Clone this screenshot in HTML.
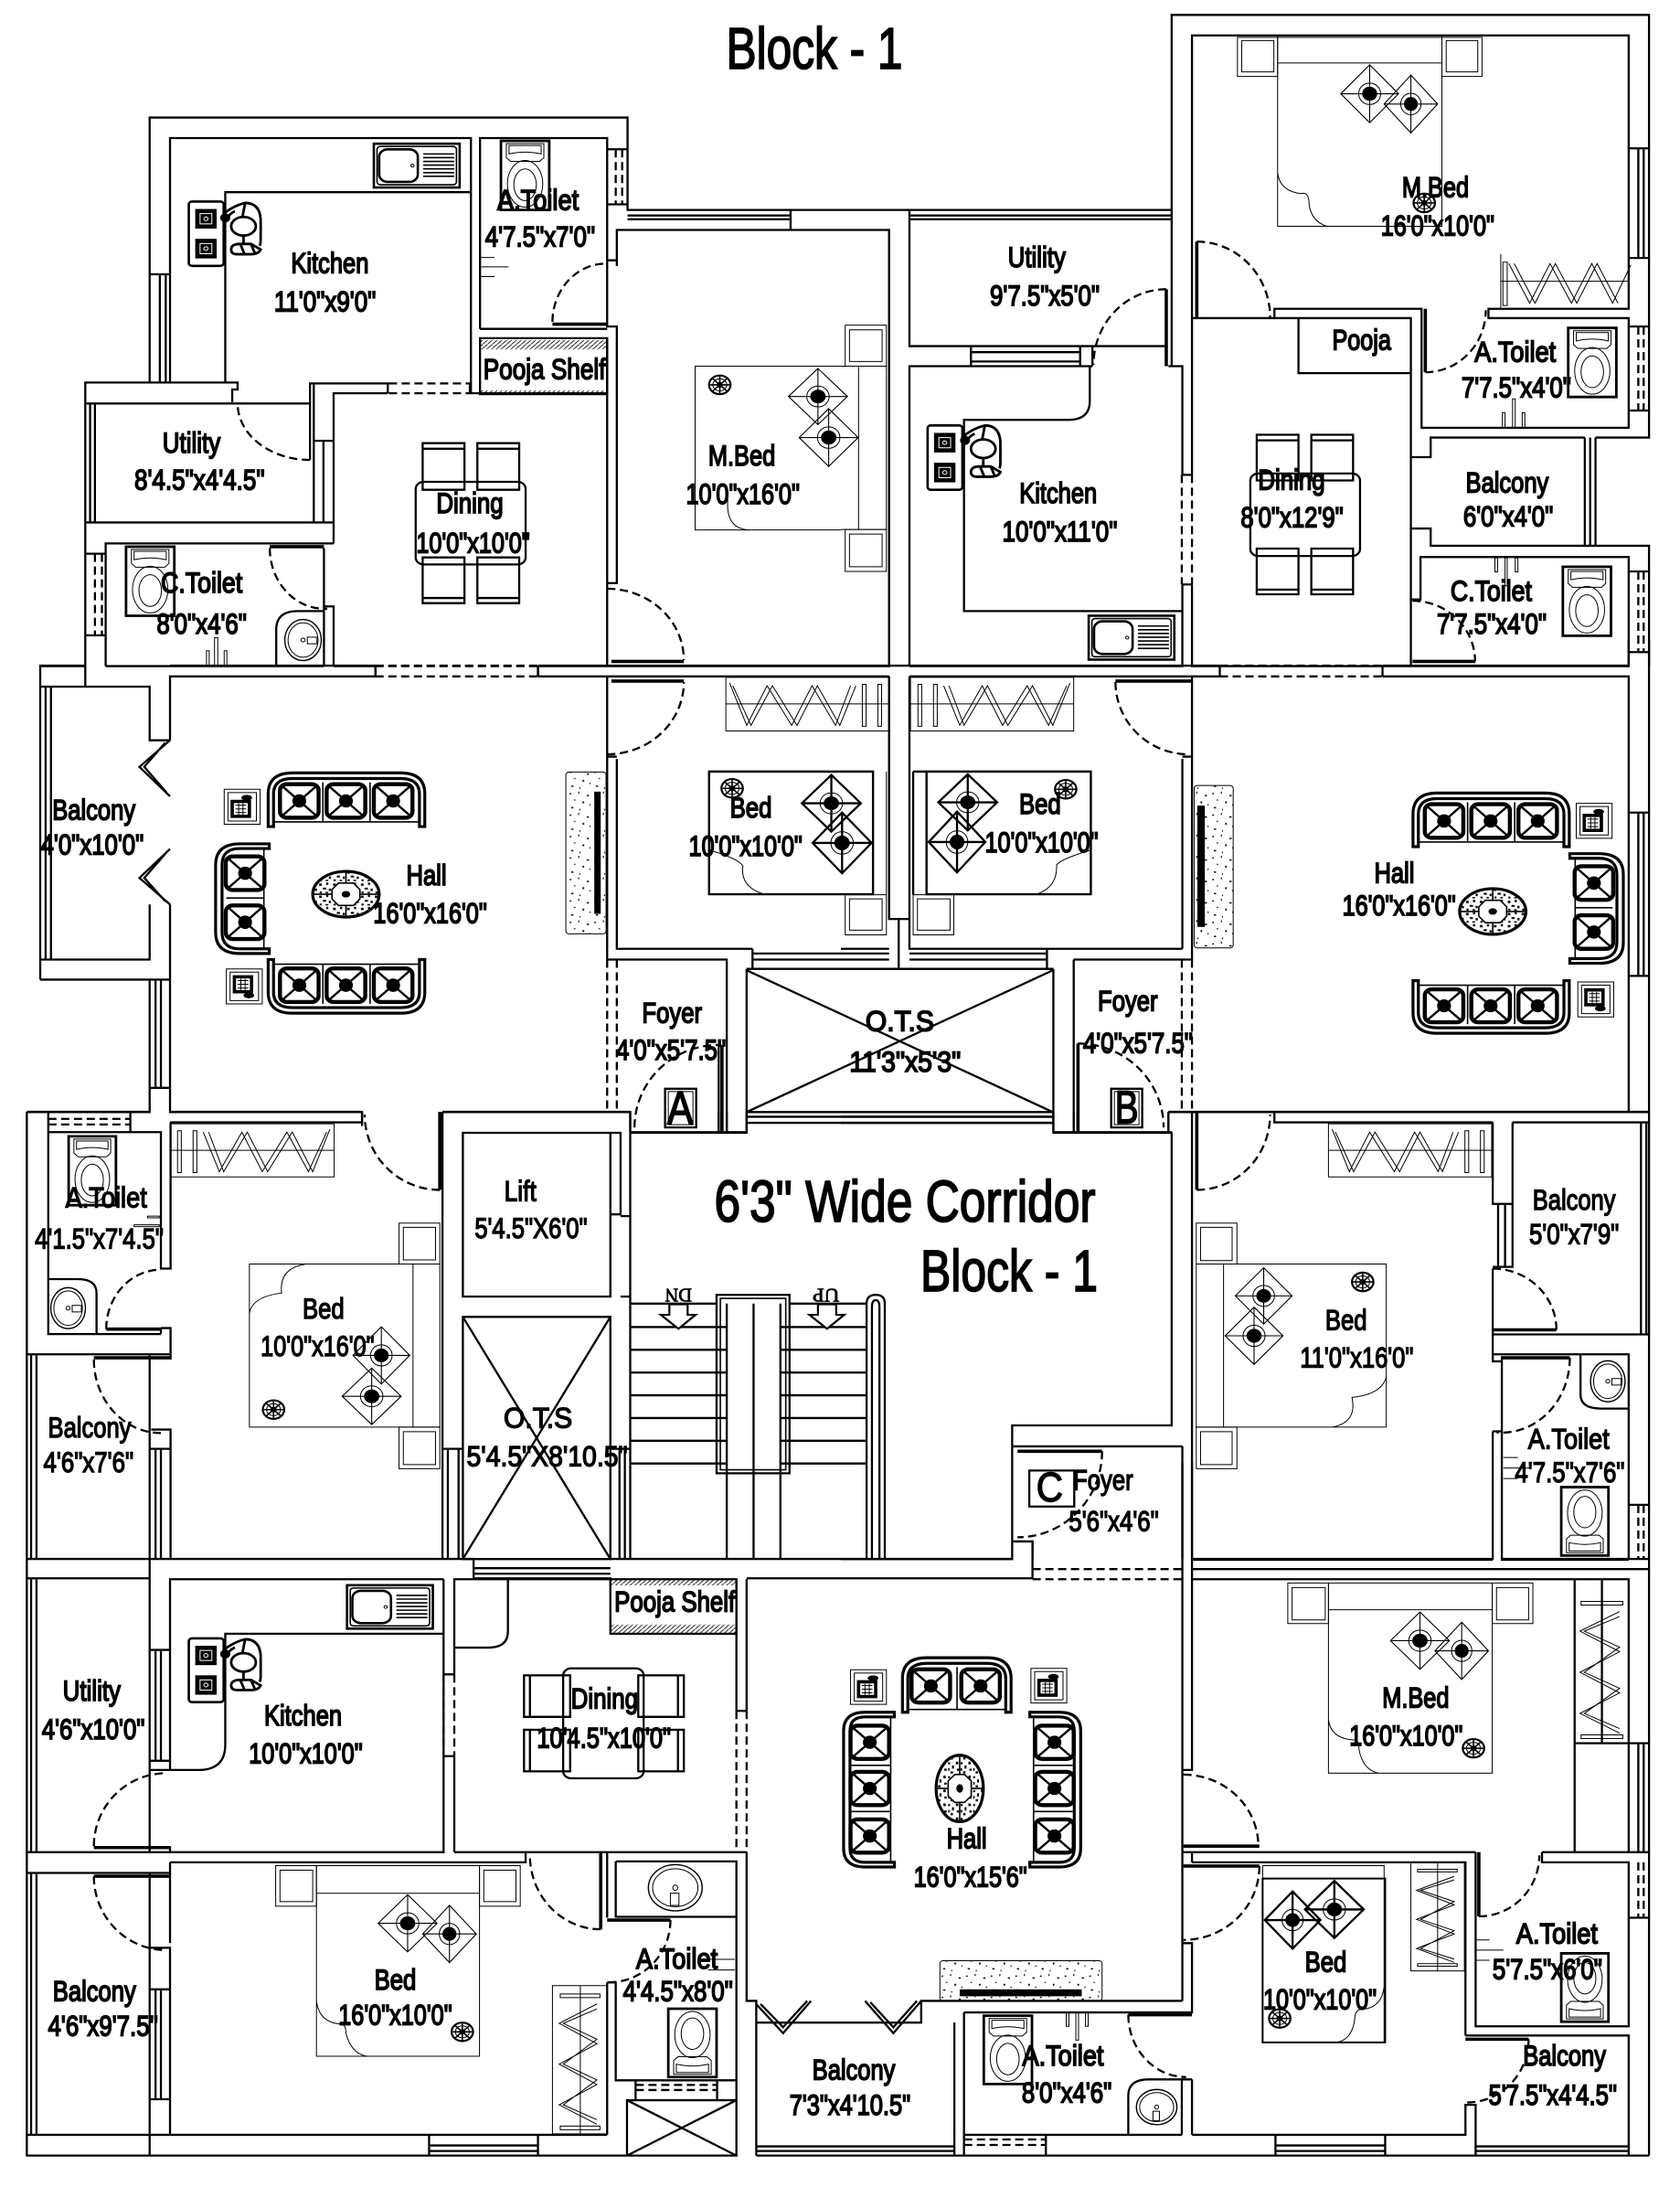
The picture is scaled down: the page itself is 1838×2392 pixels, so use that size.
<!DOCTYPE html>
<html><head><meta charset="utf-8"><title>Block - 1</title>
<style>
html,body{margin:0;padding:0;background:#fff}
svg{display:block}
svg *{vector-effect:non-scaling-stroke}
text{font-family:"Liberation Sans",Arial,sans-serif;fill:#000;stroke:#000;stroke-width:1.8;text-anchor:middle}
.k{stroke-width:3.6}.t{stroke-width:1}.d{stroke-dasharray:9 5}.m{stroke-width:1.6}.n{stroke-width:1.1}
</style></head><body>
<svg xmlns="http://www.w3.org/2000/svg" width="1838" height="2392" viewBox="0 0 1838 2392" fill="none" stroke="#000" stroke-width="2.3">
<defs>
<pattern id="hat" patternUnits="userSpaceOnUse" width="9" height="9"><path d="M-1,10L10,-1" stroke-width="1.6"/></pattern>
<pattern id="spk" patternUnits="userSpaceOnUse" width="46" height="46"><g fill="#000" stroke="none"><rect x="4" y="6" width="3" height="3"/><rect x="20" y="3" width="2" height="4"/><rect x="36" y="10" width="4" height="3"/><rect x="12" y="20" width="3" height="2"/><rect x="28" y="24" width="3" height="4"/><rect x="41" y="30" width="2" height="3"/><rect x="7" y="36" width="4" height="3"/><rect x="22" y="40" width="2" height="3"/></g></pattern>
<pattern id="spc" patternUnits="userSpaceOnUse" width="26" height="26"><g fill="#000" stroke="none"><rect x="2" y="3" width="5" height="5"/><rect x="15" y="1" width="4" height="5"/><rect x="9" y="12" width="6" height="4"/><rect x="20" y="14" width="4" height="5"/><rect x="3" y="20" width="4" height="4"/><rect x="14" y="21" width="5" height="3"/></g></pattern>
<g id="wc"><rect width="90" height="148" stroke-width="2.8"/><g class="t"><path d="M10,6H80V36L72,44H18L10,36ZM15,10H75V28Q60,24 45,24Q30,24 15,28Z"/><ellipse cx="45" cy="92" rx="33" ry="50"/><ellipse cx="45" cy="94" rx="21" ry="34"/></g></g>
<g id="ks"><rect width="160" height="94" stroke-width="2.6"/><rect x="6" y="6" width="148" height="82" rx="6" class="m"/><rect x="10" y="12" width="72" height="70" rx="16" stroke-width="2.6"/><circle cx="72" cy="47" r="3" class="t"/><path class="m" d="M92,22H150M92,30H150M92,38H150M92,46H150M92,54H150M92,62H150M92,70H150"/></g>
<g id="st"><rect width="65" height="138" rx="6" stroke-width="2.6"/><rect x="12" y="16" width="40" height="42" fill="#000" stroke="none"/><rect x="21" y="26" width="22" height="22" stroke="#fff" class="t"/><circle cx="32" cy="37" r="4" stroke="#fff" class="t"/><rect x="12" y="80" width="40" height="42" fill="#000" stroke="none"/><rect x="21" y="90" width="22" height="22" stroke="#fff" class="t"/><circle cx="32" cy="101" r="4" stroke="#fff" class="t"/></g>
<g id="ch" stroke-width="2.8"><ellipse cx="36" cy="50" rx="23" ry="20"/><path d="M0,22Q18,6 39,0Q66,0 68,35V78Q68,88 66,92M39,0L34,30M4,36Q10,22 20,18"/><ellipse cx="2" cy="32" rx="7" ry="7" fill="#000"/><path d="M36,70V88M13,100Q13,88 30,88H50L68,100Q64,110 50,110H24Q13,110 13,100ZM30,88L38,110M50,88L58,110"/></g>
<g id="se"><rect x="-36" y="-36" width="72" height="72" rx="13" stroke-width="4.4"/><path d="M-33,-33L33,33M33,-33L-33,33" stroke-width="2.4"/><ellipse rx="11" ry="12" fill="#000"/></g>
<g id="s3"><path stroke-width="3.2" d="M0,115V45Q0,0 45,0H247Q292,0 292,45V115H282V45Q282,12 247,12H45Q10,12 10,45V115Z"/><path class="m" d="M102,20V105M190,20V105M10,105H282"/><use href="#se" x="58" y="60"/><use href="#se" x="145" y="60"/><use href="#se" x="233" y="60"/></g>
<g id="s2v"><path stroke-width="3.2" d="M100,0H45Q0,0 0,45V190Q0,235 45,235H100V225H45Q12,225 12,190V45Q12,10 45,10H100Z"/><path class="m" d="M20,116H90M90,10V225"/><use href="#se" x="55" y="63"/><use href="#se" x="55" y="168"/></g>
<g id="s3v"><path stroke-width="3.2" d="M95,0H40Q0,0 0,40V295Q0,335 40,335H95V325H40Q12,325 12,295V40Q12,10 40,10H95Z"/><path class="m" d="M15,115H88M15,215H88M88,10V325"/><use href="#se" x="49" y="65"/><use href="#se" x="49" y="165"/><use href="#se" x="49" y="268"/></g>
<g id="s2h"><path stroke-width="3.2" d="M0,118V45Q0,0 45,0H158Q203,0 203,45V118H193V45Q193,12 158,12H45Q10,12 10,45V118Z"/><path class="m" d="M102,20V112M10,112H193"/><use href="#se" x="53" y="61"/><use href="#se" x="146" y="61"/></g>
<g id="sd"><rect width="67" height="75" class="t"/><rect x="7" y="7" width="53" height="61" class="t"/><rect x="15" y="26" width="32" height="32" stroke-width="3.6"/><path d="M21,34H41M21,42H41M21,50H41M27,30V54M35,30V54" class="t"/><ellipse cx="42" cy="18" rx="10" ry="6" fill="#000" stroke="none"/></g>
<g id="cf"><ellipse rx="62" ry="49" fill="url(#spc)" stroke-width="3.2"/><path class="m" fill="#fff" d="M-14,-24H14L26,-10V10L14,24H-14L-26,10V-10Z"/><ellipse rx="8" ry="7" fill="#000" stroke="none"/><path d="M-62,0H-26M26,0H62M0,-49V-24M0,24V49" class="m"/></g>
<g id="dm"><path d="M0,-62L50,0L0,62L-50,0ZM-50,0H50M0,-62V62"/><ellipse rx="19" ry="23" class="t"/><ellipse rx="13" ry="15" fill="#000" stroke="none"/></g>
<g id="fn"><circle r="20" stroke-width="2.2"/><circle r="13" class="t"/><circle r="4" fill="#000"/><path class="m" d="M-18,0H18M0,-18V18M-13,-13L13,13M13,-13L-13,13"/></g>
<g id="wr" class="t"><rect x="14" y="15" width="7" height="90"/><rect x="43" y="15" width="7" height="90"/><path d="M0,57H305M62,18L92,103L134,18L172,103L218,18L258,103L292,18M72,18L100,103L144,18L182,103L228,18L266,103L298,12"/></g>
<g id="wv" class="t"><rect x="10" y="0" width="78" height="8"/><rect x="10" y="292" width="78" height="8"/><path d="M82,22L8,65L82,110L8,155L82,200L8,245L82,288M82,33L16,65L82,100L16,155L82,190L16,245L82,278"/></g>
<g id="bs"><ellipse rx="34" ry="44" stroke-width="1.4"/><ellipse rx="28" ry="37" class="t"/><circle r="4" class="t"/><path class="t" d="M8,-6H26V8H8Z"/></g>
</defs>
<rect width="1838" height="2392" fill="#fff" stroke="none"/>

<text x="891" y="75" font-size="64" textLength="193" lengthAdjust="spacingAndGlyphs">Block - 1</text>
<text x="990" y="1336" font-size="64" textLength="417" lengthAdjust="spacingAndGlyphs">6'3" Wide Corridor</text>
<text x="1104" y="1412" font-size="64" textLength="194" lengthAdjust="spacingAndGlyphs">Block - 1</text>

<!-- Z1 -->
<g transform="scale(.5868,.5102)">
<path d="M279,820V252H1170V450H1568M1170,462H1474M1170,470H1474M1474,450V493M1150,570V493H1568M317,820V296H878V845M420,820V412H878M279,588H317M298,588V820M309,588V820M159,1428V820H443V835H433V862M159,865H578M578,986V822H723V843M585,822V945H622M622,1428V1300H604M622,1165V1120M622,1120V843H723M876,843H1132M876,822V843M168,865V1120M177,865V1120M585,945V1120M603,945V1120M159,1120H622M197,1428V1165H622M604,1175V1428M159,1187H197M159,1362H197M75,1428H159M197,1428H604M622,1428H700M1003,1428H1568M700,1428V1450M1003,1428V1450M895,705V296H1132V700H1150V1250H1132V1262M895,705H1132M1132,320H1170M1132,438H1170M1132,558H1150V570M1132,725V1428M515,1428V1350Q515,1310 555,1310H604"/>
<path class="d" d="M725,822H876M725,843H876M177,1187V1362M190,1187V1362M1148,320V438M1160,320V438M503,1175A102,130 0 0 0 610,1305M1030,690A100,125 0 0 1 1132,565M1132,1262A143,153 0 0 1 1275,1415M578,986A135,121 0 0 1 443,865M700,1428H1003"/>
<path class="k" d="M503,1172H604M1030,695H1132M1140,1418H1275"/>
<path class="t" d="M897,552H922M897,572H948M897,593H922"/>
<rect x="385" y="1395" width="5" height="33" class="t"/><rect x="400" y="1367" width="6" height="61" class="t"/><rect x="418" y="1395" width="5" height="33" class="t"/>
<use href="#bs" transform="translate(565,1372)"/>
<rect x="895" y="725" width="237" height="120"/>
<rect x="895" y="729" width="237" height="20" fill="url(#hat)" stroke="none"/><rect x="895" y="837" width="237" height="8" fill="url(#hat)" stroke="none"/>
<use href="#ks" x="697" y="308"/><use href="#st" x="352" y="432"/><use href="#ch" x="418" y="435"/>
<use href="#wc" x="934" y="302"/><use href="#wc" x="235" y="1172"/>
<rect x="775" y="1033" width="205" height="177" rx="15"/>
<rect x="788" y="950" width="78" height="100"/><rect x="890" y="950" width="78" height="100"/><rect x="788" y="1195" width="78" height="98"/><rect x="890" y="1195" width="78" height="98"/>
<path d="M788,962H866M890,962H968M788,1282H866M890,1282H968"/>
<path class="t" d="M1568,785H1296V1136H1568M1357,1070Q1352,1136 1400,1136"/>
<use href="#dm" transform="translate(1525,850) scale(1.1,.97)" class="n"/><use href="#dm" transform="translate(1545,938) scale(1.1,1)" class="n"/>
<use href="#fn" x="1342" y="825"/>
<g font-size="62">
<text x="1003" y="450" textLength="152" lengthAdjust="spacingAndGlyphs">A.Toilet</text>
<text x="1007" y="528" textLength="205" lengthAdjust="spacingAndGlyphs">4'7.5"x7'0"</text>
<text x="615" y="585" textLength="145" lengthAdjust="spacingAndGlyphs">Kitchen</text>
<text x="606" y="667" textLength="190" lengthAdjust="spacingAndGlyphs">11'0"x9'0"</text>
<text x="1015" y="812" textLength="228" lengthAdjust="spacingAndGlyphs">Pooja Shelf</text>
<text x="357" y="970" textLength="108" lengthAdjust="spacingAndGlyphs">Utility</text>
<text x="372" y="1050" textLength="243" lengthAdjust="spacingAndGlyphs">8'4.5"x4'4.5"</text>
<text x="876" y="1100" textLength="125" lengthAdjust="spacingAndGlyphs">Dining</text>
<text x="882" y="1185" textLength="212" lengthAdjust="spacingAndGlyphs">10'0"x10'0"</text>
<text x="1383" y="998" textLength="125" lengthAdjust="spacingAndGlyphs">M.Bed</text>
<text x="1385" y="1080" textLength="212" lengthAdjust="spacingAndGlyphs">10'0"x16'0"</text>
<text x="376" y="1270" textLength="152" lengthAdjust="spacingAndGlyphs">C.Toilet</text>
<text x="376" y="1358" textLength="168" lengthAdjust="spacingAndGlyphs">8'0"x4'6"</text>
</g>
</g>

<!-- Z2 -->
<g transform="translate(920,0) scale(.5855,.5102)">
<path d="M618,785V32H1510V938H1410M0,450H618M128,462H618M128,470H618M128,450V742H610M128,742H470V785M243,742V785M447,742V785M243,755H447M243,775H447M128,1428V785H470M612,785H638V1018M638,1253V1428H128M0,493H90V1428H0M465,785V860Q465,900 425,900H230V1310H638M656,1018V76H1472V662H1210V682H1472V917H1085V662H810V682M656,682H1065V1428M855,682V800H1065M656,1253V1428H1472V1194H1083V1285H1065M1065,980H1102V938H1390M1390,938V1170M1400,938V1170M1410,938V1170M1065,1133H1102V1170H1510V1428M1472,318H1510M1472,553H1510M1490,318V553M1500,318V553M1472,700H1510M1472,880H1510M1472,1225H1510M1472,1398H1510M637,1018H656M637,1253H656"/>
<path class="d" d="M1490,700V880M1500,700V880M1490,1225V1398M1500,1225V1398M637,1018V1253M656,1018V1253M608,620A136,162 0 0 0 472,782M665,518A137,162 0 0 1 802,680M1092,798A113,133 0 0 0 1205,665M1068,1288A117,130 0 0 1 1185,1418"/>
<path class="k" d="M608,620V785M665,518V680M1092,662V798M1068,1418H1185"/>
<use href="#ks" x="463" y="1320"/><use href="#st" x="162" y="912"/><use href="#ch" x="230" y="912"/>
<use href="#wc" x="1359" y="703"/><use href="#wc" x="1349" y="1215"/>
<rect class="t" x="1236" y="885" width="5" height="32"/><rect class="t" x="1255" y="855" width="5" height="62"/><rect class="t" x="1273" y="885" width="5" height="32"/>
<rect class="t" x="1222" y="1196" width="5" height="30"/><rect class="t" x="1241" y="1196" width="4" height="60"/><rect class="t" x="1260" y="1196" width="5" height="30"/>
<path class="t" d="M816,135H1123V485H816ZM816,76V135M1123,76V135M816,80H1123M816,370Q820,410 860,415Q875,410 875,440Q880,475 908,485M1233,545V660"/>
<rect class="t" x="741" y="80" width="75" height="84"/><rect class="t" x="749" y="87" width="60" height="67"/><rect class="t" x="1123" y="80" width="75" height="84"/><rect class="t" x="1131" y="87" width="59" height="67"/>
<use href="#dm" transform="translate(988,201) scale(1.08,1)" class="n"/><use href="#dm" transform="translate(1065,223)" class="n"/><use href="#fn" x="1090" y="435"/>
<path class="t" d="M1233,603H1472M1237,562H1245V655H1237ZM1248,565L1287,650L1325,565L1365,650L1403,565L1442,650L1476,568M1258,565L1297,650L1335,565L1375,650L1413,565L1452,650"/>
<path class="t" d="M0,785H85V1135H0M33,785V1135"/>
<rect class="t" x="8" y="697" width="77" height="88"/><rect class="t" x="16" y="707" width="61" height="68"/><rect class="t" x="8" y="1135" width="77" height="90"/><rect class="t" x="16" y="1145" width="61" height="70"/>
<rect x="765" y="1015" width="205" height="177" rx="15"/>
<rect x="777" y="932" width="78" height="98"/><rect x="879" y="932" width="78" height="98"/><rect x="777" y="1176" width="78" height="98"/><rect x="879" y="1176" width="78" height="98"/>
<path d="M777,944H855M879,944H957M777,1264H855M879,1264H957"/>
<g font-size="62">
<text x="1111" y="422" textLength="125" lengthAdjust="spacingAndGlyphs">M.Bed</text>
<text x="1115" y="505" textLength="212" lengthAdjust="spacingAndGlyphs">16'0"x10'0"</text>
<text x="366" y="572" textLength="108" lengthAdjust="spacingAndGlyphs">Utility</text>
<text x="381" y="655" textLength="205" lengthAdjust="spacingAndGlyphs">9'7.5"x5'0"</text>
<text x="973" y="750" textLength="110" lengthAdjust="spacingAndGlyphs">Pooja</text>
<text x="1260" y="775" textLength="152" lengthAdjust="spacingAndGlyphs">A.Toilet</text>
<text x="1262" y="852" textLength="205" lengthAdjust="spacingAndGlyphs">7'7.5"x4'0"</text>
<text x="1245" y="1055" textLength="155" lengthAdjust="spacingAndGlyphs">Balcony</text>
<text x="1247" y="1128" textLength="168" lengthAdjust="spacingAndGlyphs">6'0"x4'0"</text>
<text x="842" y="1050" textLength="125" lengthAdjust="spacingAndGlyphs">Dining</text>
<text x="843" y="1130" textLength="192" lengthAdjust="spacingAndGlyphs">8'0"x12'9"</text>
<text x="406" y="1078" textLength="145" lengthAdjust="spacingAndGlyphs">Kitchen</text>
<text x="409" y="1160" textLength="215" lengthAdjust="spacingAndGlyphs">10'0"x11'0"</text>
<text x="1215" y="1288" textLength="152" lengthAdjust="spacingAndGlyphs">C.Toilet</text>
<text x="1216" y="1358" textLength="205" lengthAdjust="spacingAndGlyphs">7'7.5"x4'0"</text>
</g>
</g>

<!-- Z3 -->
<g transform="translate(0,700) scale(.5868,.5102)">
<path d="M159,55V100M75,728V55H159M75,100H279V215H317M279,567V685H75M85,100V685M95,100V685M75,728H317M279,728V1012H50M290,728V960M300,728V960M279,960H317M317,215V78H700M1003,78H1568M1003,55H1568M317,55H700M700,55V78M1003,55V78M317,215L260,272L317,335M308,220L269,272L310,326M317,448L260,510L317,567M310,456L269,510L308,560M317,567V1012H675V1042M825,1012H1175V1055M1132,78V685M1150,255V662H1403M1132,250H1150M1132,685H1355V1055M1403,662V705M1403,672H1568M1403,685H1568M1340,868V1055M1177,1055H1392V705M1392,705H1963M1392,708V1012H1963M1392,708L1963,1012M1392,1012L1963,708M1392,1022H1963M1392,1035H1963M1132,1012H1150"/>
<path class="d" d="M700,55H1003M700,78H1003M1132,685V1012M1150,685V1012M1132,245A143,155 0 0 0 1275,90M1183,1045A157,177 0 0 1 1340,868"/>
<path class="k" d="M1140,88H1275M1346,868V1055"/>
<rect x="1240" y="962" width="58" height="83"/><rect class="t" x="1246" y="968" width="46" height="71"/>
<text x="1268" y="1038" font-size="100" textLength="48" lengthAdjust="spacingAndGlyphs">A</text>
<path stroke-width="2.4" d="M1568,282H1322V545H1568"/><path class="t" d="M1322,450Q1380,470 1385,485Q1380,530 1425,545"/>
<use href="#fn" x="1365" y="318"/>
<use href="#dm" transform="translate(1550,350) scale(1.1,.98)"/><use href="#dm" transform="translate(1570,435) scale(1.1,1.05)"/>
<use href="#s3" x="500" y="285"/><use href="#s2v" x="402" y="437"/><use href="#s3" transform="translate(500,800) scale(1,-1)"/>
<use href="#sd" x="418" y="320"/><use href="#sd" transform="translate(422,780) scale(1,-1)"/><use href="#cf" x="645" y="545"/>
<rect x="1055" y="283" width="75" height="347" rx="6" class="t" fill="url(#spk)"/><rect x="1108" y="325" width="12" height="262" fill="#000" stroke="none"/>
<g font-size="62">
<text x="175" y="385" textLength="155" lengthAdjust="spacingAndGlyphs">Balcony</text>
<text x="172" y="460" textLength="192" lengthAdjust="spacingAndGlyphs">4'0"x10'0"</text>
<text x="795" y="525" textLength="75" lengthAdjust="spacingAndGlyphs">Hall</text>
<text x="802" y="607" textLength="212" lengthAdjust="spacingAndGlyphs">16'0"x16'0"</text>
<text x="1400" y="380" textLength="78" lengthAdjust="spacingAndGlyphs">Bed</text>
<text x="1390" y="463" textLength="212" lengthAdjust="spacingAndGlyphs">10'0"x10'0"</text>
<text x="1253" y="820" textLength="112" lengthAdjust="spacingAndGlyphs">Foyer</text>
<text x="1251" y="900" textLength="205" lengthAdjust="spacingAndGlyphs">4'0"x5'7.5"</text>
</g>
</g>

<!-- Z4 -->
<g transform="translate(920,700) scale(.5855,.5102)">
<path d="M0,55H708M1012,55H1472M0,78H90M128,78H656M656,78H708M1012,78H1472V1012M708,55V78M1012,55V78M1510,0V1012M1472,0V55M90,78V598H128M128,78V662H638M638,255V662M638,250H656M656,78V685M0,662H90M0,672H90M0,685H90M128,672H385M128,685H385M385,662V705M108,598V705M128,598V662M0,705H397M397,705V1055M435,685H656M435,685V1055M1472,370H1510M1472,720H1510M1490,370V720M1500,370V720M612,1012H1510M612,1012V1055M397,1055H618M0,1035H397M0,1022H397"/>
<path class="d" d="M637,685V1012M656,685V1012M708,55H1012M708,78H1012M513,90A137,155 0 0 0 650,245M443,865A160,180 0 0 1 603,1045"/>
<path class="k" d="M513,88H656M443,865V1055"/>
<rect x="505" y="962" width="58" height="83"/><rect class="t" x="511" y="968" width="46" height="71"/>
<text x="534" y="1036" font-size="100" textLength="44" lengthAdjust="spacingAndGlyphs">B</text>
<rect class="t" x="-215" y="80" width="305" height="115"/><use href="#wr" transform="translate(90,80) scale(-1,1)"/>
<rect class="t" x="130" y="80" width="305" height="115"/><use href="#wr" transform="translate(130,80)"/>
<path class="t" d="M85,282V545"/>
<path stroke-width="2.4" d="M0,282H60V545H0M160,282H467V545H160ZM135,282H160M135,282V546"/>
<path class="t" d="M467,450Q410,470 403,482Q405,530 365,545"/>
<rect class="t" x="8" y="546" width="77" height="86"/><rect class="t" x="16" y="555" width="61" height="67"/><rect class="t" x="135" y="546" width="76" height="86"/><rect class="t" x="143" y="555" width="61" height="67"/>
<use href="#dm" transform="translate(237,348) scale(1.1,.97)"/><use href="#dm" transform="translate(217,433) scale(1.06,1.05)"/><use href="#fn" x="420" y="320"/>
<rect class="t" x="660" y="312" width="73" height="348" rx="6" fill="url(#spk)"/><rect x="666" y="355" width="14" height="260" fill="#000" stroke="none"/>
<use href="#s3" x="1069" y="328"/><use href="#s2v" transform="translate(1462,458) scale(-1,1)"/><use href="#s3" transform="translate(1069,843) scale(1,-.98)"/>
<use href="#sd" x="1374" y="350"/><use href="#sd" transform="translate(1377,808) scale(1,-1)"/><use href="#cf" x="1218" y="582"/>
<g font-size="62">
<text x="372" y="372" textLength="78" lengthAdjust="spacingAndGlyphs">Bed</text>
<text x="375" y="455" textLength="212" lengthAdjust="spacingAndGlyphs">10'0"x10'0"</text>
<text x="536" y="795" textLength="112" lengthAdjust="spacingAndGlyphs">Foyer</text>
<text x="555" y="885" textLength="205" lengthAdjust="spacingAndGlyphs">4'0"x5'7.5"</text>
<text x="110" y="838" textLength="128" lengthAdjust="spacingAndGlyphs">O.T.S</text>
<text x="120" y="925" textLength="208" lengthAdjust="spacingAndGlyphs">11'3"x5'3"</text>
<text x="1034" y="520" textLength="75" lengthAdjust="spacingAndGlyphs">Hall</text>
<text x="1043" y="590" textLength="212" lengthAdjust="spacingAndGlyphs">16'0"x16'0"</text>
</g>
</g>

<!-- Z7 -->
<g transform="translate(0,1200) scale(.5868,.3827)">
<path d="M50,42V1320M50,42H279M90,42V100M243,42V100M90,100H300V490H318V72M90,100V677H300M300,660V677M300,660H318V750M50,735H318M279,735V1320M58,735V1320M68,735V1320M318,965V1320M282,950H318V965M279,1005H318M290,1005V1320M300,1005V1320M317,72H675V42M317,42H675M825,42V1320M825,42H1175V102M1175,102V1320M90,520H145Q180,520 180,560V677M863,102H1138V570H863ZM1138,102H1157V335H1138M1157,340H1175V570H1157M863,628H1138V1320H863ZM863,628L1138,1320M1138,628L863,1320M825,1005H863M835,1005V1320M855,1005V1320M1138,1005H1175M1155,1005V1320M1165,1005V1320M1177,102H1392V42M1340,42V102M1355,42V102M1175,590H1336M1472,590H1616M1175,657H1355M1175,722H1355M1175,787H1355M1175,852H1355M1175,917H1355M1175,982H1355M1175,1047H1355M1455,657H1616M1455,722H1616M1455,787H1616M1455,852H1616M1455,917H1616M1455,982H1616M1455,1047H1616M1355,590V1320M1405,590V1320M1455,590V1320"/>
<rect x="1336" y="565" width="136" height="510"/><rect x="1343" y="575" width="122" height="490" class="m"/>
<path stroke-width="2.2" fill="#fff" d="M1248,592H1282V622H1297L1265,662L1232,622H1248ZM1525,592H1559V622H1574L1542,662L1509,622H1525Z"/>
<path class="d" d="M90,62H243M90,78H243M198,663A102,170 0 0 1 300,493M175,750A125,210 0 0 0 300,960M820,265A140,215 0 0 1 680,50"/>
<path class="k" d="M198,663H300M175,745H318M820,42V265"/>
<path class="t" d="M275,340H297V345H275ZM250,365H297V370H250Z"/>
<use href="#bs" transform="translate(127,603) scale(.95,1.33)"/>
<use href="#wc" transform="translate(128,112) scale(.98,1.33)"/>
<rect class="t" x="317" y="76" width="306" height="152"/><use href="#wr" transform="translate(317,76) scale(1,1.33)"/>
<path class="t" d="M465,477H820V943H465ZM770,477V943M465,618Q470,570 525,560Q520,490 568,478"/>
<rect class="t" x="744" y="360" width="76" height="117"/><rect class="t" x="752" y="372" width="60" height="93"/><rect class="t" x="744" y="943" width="76" height="119"/><rect class="t" x="752" y="956" width="60" height="94"/>
<use href="#dm" transform="translate(711,738) scale(1.06,1.32)" class="n"/><use href="#dm" transform="translate(693,855) scale(1.1,1.3)" class="n"/>
<use href="#fn" transform="translate(510,893) scale(1,1.33)"/>
<g font-size="83">
<text x="198" y="315" textLength="152" lengthAdjust="spacingAndGlyphs">A.Toilet</text>
<text x="185" y="432" textLength="240" lengthAdjust="spacingAndGlyphs">4'1.5"x7'4.5"</text>
<text x="970" y="296" textLength="60" lengthAdjust="spacingAndGlyphs">Lift</text>
<text x="990" y="402" textLength="210" lengthAdjust="spacingAndGlyphs">5'4.5"X6'0"</text>
<text x="603" y="632" textLength="78" lengthAdjust="spacingAndGlyphs">Bed</text>
<text x="592" y="740" textLength="212" lengthAdjust="spacingAndGlyphs">10'0"x16'0"</text>
<text x="167" y="972" textLength="155" lengthAdjust="spacingAndGlyphs">Balcony</text>
<text x="165" y="1072" textLength="168" lengthAdjust="spacingAndGlyphs">4'6"x7'6"</text>
<text x="1003" y="945" textLength="128" lengthAdjust="spacingAndGlyphs">O.T.S</text>
<text x="1020" y="1055" textLength="300" lengthAdjust="spacingAndGlyphs">5'4.5"X8'10.5"</text>
</g>
<text transform="translate(1265,547) rotate(180)" font-size="55" textLength="50" lengthAdjust="spacingAndGlyphs" style="font-family:'Liberation Serif',serif;stroke-width:1">DN</text>
<text transform="translate(1540,547) rotate(180)" font-size="55" textLength="50" lengthAdjust="spacingAndGlyphs" style="font-family:'Liberation Serif',serif;stroke-width:1">UP</text>
</g>

<!-- Z8 -->
<g transform="translate(920,1200) scale(.5855,.3827)">
<path d="M397,42V102H618V938H320V1320H0M320,998H638M435,42V102M612,42V100M612,42H1510M638,998V1320M656,42V1320M810,42V72H1218M1218,72V305H1255M1255,72V485H1218M1228,305V485M1241,305V485M1255,72H1510M1495,72V678M1505,72V678M1510,42V1320M1218,490V678M1218,678H1510M1218,678V755H1235M1218,735H1472V1320M1235,740V1322H1472M1218,955V1322M1218,955H1235M1218,1322H656M1382,735V850Q1382,890 1420,890H1472M1472,1165H1510M48,1320V590Q48,565 65,565Q82,565 82,590V1320M58,1320V600Q58,580 65,580Q72,580 72,600V1320M320,1270H358V1320"/>
<path class="d" d="M1490,1165V1320M1500,1165V1320M488,1012A158,245 0 0 1 330,1258M665,265A137,215 0 0 0 802,50M1218,490A119,175 0 0 1 1337,665M1362,745A127,213 0 0 1 1225,958"/>
<path class="k" d="M330,1012H488M665,42V265M1218,665H1337M1235,745H1362"/>
<rect x="352" y="1067" width="84" height="103"/>
<text x="390" y="1155" font-size="118" textLength="50" lengthAdjust="spacingAndGlyphs">C</text>
<use href="#bs" transform="translate(1433,812) scale(.95,1.33)"/>
<use href="#wc" transform="translate(1346,1310) scale(.98,-1.32)"/>
<path class="t" d="M1238,1030H1265M1238,1060H1290M1238,1090H1265"/>
<rect class="t" x="911" y="76" width="305" height="152"/><use href="#wr" transform="translate(1216,76) scale(-1,1.33)"/>
<path class="t" d="M664,477H1019V943H664ZM715,477V943M1019,800Q1010,850 955,858Q965,930 918,943"/>
<rect class="t" x="664" y="360" width="76" height="117"/><rect class="t" x="672" y="372" width="59" height="95"/><rect class="t" x="664" y="943" width="76" height="119"/><rect class="t" x="672" y="956" width="59" height="94"/>
<use href="#dm" transform="translate(790,568) scale(1.06,1.3)" class="n"/><use href="#dm" transform="translate(772,682) scale(1.08,1.32)" class="n"/>
<use href="#fn" transform="translate(975,528) scale(1,1.33)"/>
<g font-size="83">
<text x="1370" y="322" textLength="155" lengthAdjust="spacingAndGlyphs">Balcony</text>
<text x="1370" y="420" textLength="168" lengthAdjust="spacingAndGlyphs">5'0"x7'9"</text>
<text x="944" y="665" textLength="78" lengthAdjust="spacingAndGlyphs">Bed</text>
<text x="964" y="772" textLength="212" lengthAdjust="spacingAndGlyphs">11'0"x16'0"</text>
<text x="1360" y="1005" textLength="152" lengthAdjust="spacingAndGlyphs">A.Toilet</text>
<text x="1362" y="1100" textLength="205" lengthAdjust="spacingAndGlyphs">4'7.5"x7'6"</text>
<text x="490" y="1122" textLength="112" lengthAdjust="spacingAndGlyphs">Foyer</text>
<text x="510" y="1240" textLength="168" lengthAdjust="spacingAndGlyphs">5'6"x4'6"</text>
</g>
</g>

<!-- Z5 -->
<g transform="translate(0,1600) scale(.5868,.5051)">
<path d="M50,208H883V250M883,228H1138M883,240H1138M1138,208H1568M883,250H1138V252M1392,250H1568M50,250H279M50,208V1500H1373M58,250V843M68,250V843M58,888V1455M68,888V1455M50,1455H1132M279,208V843M50,843H827V458M827,252H317V405H279M827,252V458M827,635V843M317,405V665M279,645H317M290,405V645M300,405V645M279,665H317M317,665H370Q420,665 420,610V370H827M317,830V843M50,888H317M317,865H980V843M317,865V1040M317,1065V1455M279,1050H317V1065M279,1140H317M290,1140V1378M300,1140V1378M279,1378H317M279,888V1500M847,843V635M847,458V252H1138M947,252V365Q947,400 910,400H847M827,458H847M827,635H847M847,843H1392M1132,843V985M1132,1125H1148M1132,1125V1455M1148,863H1373V1337H1148V1125M1148,863V985M1148,983H1373M1373,252V537M1392,252V537M1373,537H1392M1392,843V1165H1410V1500M1410,1172L1460,1235L1512,1165M1418,1172L1460,1222L1505,1165M1410,1212H1568M1410,1480H1568M1410,1490H1568M1410,1500H1568M1185,1337V1380M1337,1337V1380M1169,1380H1373V1500H1169ZM1169,1380L1373,1500M1373,1380L1169,1500M800,1455V1500M1003,1455V1500M800,1478H1003M800,1490H1003M1373,1337V1380"/>
<path class="d" d="M827,458V635M847,458V635M1373,537V843M1392,537V843M1185,1347H1337M1185,1358H1337M175,830A135,158 0 0 1 310,672M175,895A135,160 0 0 0 310,1055M1120,1010A132,160 0 0 1 988,850M1250,990A115,135 0 0 1 1135,1125"/>
<path class="k" d="M175,833H317M175,895H317M1120,843V1010M1132,990H1250"/>
<rect x="1138" y="252" width="235" height="118"/>
<rect x="1138" y="252" width="235" height="13" fill="url(#hat)" stroke="none"/><rect x="1138" y="350" width="235" height="20" fill="url(#hat)" stroke="none"/>
<use href="#ks" x="647" y="265"/><use href="#st" x="352" y="380"/><use href="#ch" x="418" y="382"/>
<rect x="1050" y="445" width="150" height="238" rx="15"/>
<rect x="977" y="460" width="86" height="90"/><rect x="1190" y="460" width="85" height="90"/><rect x="977" y="578" width="86" height="90"/><rect x="1190" y="578" width="85" height="90"/>
<path d="M988,460V550M1264,460V550M988,578V668M1264,578V668"/>
<use href="#bs" transform="translate(1259,920) rotate(90) scale(1.47,1.14)"/>
<use href="#wc" transform="translate(1246,1330) scale(1,-1)"/>
<path class="t" d="M1320,1075H1370M1320,1098H1370"/>
<rect class="t" x="1030" y="1132" width="102" height="321"/><path class="t" d="M1082,1132V1453"/><use href="#wv" transform="translate(1035,1150) scale(.95,.98)"/>
<path class="t" d="M590,872H894M590,932H894V1285H590ZM590,872V932M894,872V932M590,1165Q595,1212 635,1215Q645,1215 645,1235Q655,1280 685,1285"/>
<rect class="t" x="514" y="872" width="76" height="88"/><rect class="t" x="522" y="882" width="61" height="68"/><rect class="t" x="894" y="872" width="76" height="88"/><rect class="t" x="902" y="882" width="60" height="68"/>
<use href="#dm" transform="translate(760,997) scale(1.1,1)" class="n"/><use href="#dm" transform="translate(838,1020)" class="n"/><use href="#fn" x="862" y="1232"/>
<g font-size="62">
<text x="171" y="515" textLength="108" lengthAdjust="spacingAndGlyphs">Utility</text>
<text x="174" y="598" textLength="192" lengthAdjust="spacingAndGlyphs">4'6"x10'0"</text>
<text x="565" y="568" textLength="145" lengthAdjust="spacingAndGlyphs">Kitchen</text>
<text x="570" y="650" textLength="212" lengthAdjust="spacingAndGlyphs">10'0"x10'0"</text>
<text x="1258" y="322" textLength="225" lengthAdjust="spacingAndGlyphs">Pooja Shelf</text>
<text x="1127" y="532" textLength="125" lengthAdjust="spacingAndGlyphs">Dining</text>
<text x="1126" y="617" textLength="250" lengthAdjust="spacingAndGlyphs">10'4.5"x10'0"</text>
<text x="737" y="1140" textLength="78" lengthAdjust="spacingAndGlyphs">Bed</text>
<text x="737" y="1217" textLength="212" lengthAdjust="spacingAndGlyphs">16'0"x10'0"</text>
<text x="1262" y="1095" textLength="152" lengthAdjust="spacingAndGlyphs">A.Toilet</text>
<text x="1264" y="1165" textLength="205" lengthAdjust="spacingAndGlyphs">4'4.5"x8'0"</text>
<text x="176" y="1165" textLength="155" lengthAdjust="spacingAndGlyphs">Balcony</text>
<text x="192" y="1240" textLength="205" lengthAdjust="spacingAndGlyphs">4'6"x9'7.5"</text>
</g>
</g>

<!-- Z6 -->
<g transform="translate(920,1600) scale(.5855,.5051)">
<path d="M0,208H320M0,250H358V170H320M638,0V1165M656,0V665H640M656,208H1218M1236,208H1510M656,230H1510M656,252H1472V843M1510,208V1500M1472,607H1510M1490,607V843M1500,607V843M1371,252V843M1422,252V607M1371,607H1472M638,843H1186M1310,843H1510M656,865H1167V1240M1186,843V1220H1472V865H1310V843M1472,985H1510M640,1040H656V1190H230M638,1165H150V1212H0M230,1190V1500M637,1335H656M637,1335V1455M656,1335V1455M230,1455H637M656,1455H1167V1390H1186V1500M212,1212V1500M0,1480H212M0,1490H212M0,1500H1510M383,1455V1500M812,1455V1500M1017,1455V1500M812,1478H1017M812,1490H1017M1167,1240H1472V1500M1186,1480H1472M1186,1490H1472M45,1165L98,1235L150,1165M55,1168L98,1222L142,1165M537,1455V1370Q537,1335 575,1335H637M656,865V843"/>
<path class="d" d="M358,230H637M358,252H637M1490,865V985M1500,865V985M230,1465H383M230,1477H383M640,675A140,155 0 0 1 780,830M782,873A142,160 0 0 1 640,1033M1192,982A113,132 0 0 0 1305,850M537,1195A108,135 0 0 0 645,1330M1285,1248A115,137 0 0 1 1170,1385"/>
<path class="k" d="M640,830H782M640,873H782M1192,843V982M537,1195H656M1167,1248H1285"/>
<rect class="t" x="835" y="260" width="76" height="88"/><rect class="t" x="843" y="270" width="62" height="70"/><rect class="t" x="1217" y="260" width="76" height="88"/><rect class="t" x="1225" y="270" width="60" height="70"/>
<path class="t" d="M911,260H1217M911,318H1217V672H911ZM911,260V318M1217,260V318M911,555Q915,598 960,600Q968,600 968,620Q975,665 1005,672"/>
<use href="#dm" transform="translate(1082,385) scale(1.1,1)" class="n"/><use href="#dm" transform="translate(1160,407)" class="n"/><use href="#fn" x="1182" y="618"/>
<use href="#wv" transform="translate(1373,300) scale(1,.99)"/>
<path stroke-width="2" d="M788,900H1017V1255H788Z"/><path class="t" d="M788,872H1015V1255M788,872V900M1015,1135Q1010,1180 975,1183Q960,1183 960,1205Q955,1250 925,1255"/>
<use href="#dm" transform="translate(844,990) scale(1.04,1)"/><use href="#dm" transform="translate(922,967) scale(1.1,1)"/><use href="#fn" x="820" y="1203"/>
<rect class="t" x="1065" y="865" width="100" height="235"/><path class="t" d="M1115,865V1100"/><use href="#wv" transform="translate(1068,880) scale(.95,.7)"/>
<use href="#s2h" x="115" y="422"/><use href="#s3v" x="5" y="540"/><use href="#s3v" transform="translate(448,540) scale(-1,1)"/>
<use href="#sd" x="18" y="448"/><use href="#sd" x="355" y="445"/>
<use href="#cf" transform="translate(222,705) rotate(90) scale(1.16,.9)"/>
<rect class="t" x="185" y="1078" width="303" height="87" rx="6" fill="url(#spk)"/><rect x="222" y="1140" width="228" height="15" fill="#000" stroke="none"/>
<use href="#wc" x="267" y="1197"/>
<rect class="t" x="421" y="1190" width="5" height="30"/><rect class="t" x="439" y="1190" width="5" height="60"/><rect class="t" x="457" y="1190" width="5" height="30"/>
<use href="#bs" transform="translate(590,1395) rotate(90) scale(1.12,.86)"/>
<use href="#wc" transform="translate(1346,1210) scale(.98,-1)"/>
<use href="#wc" transform="translate(1346,200) scale(.98,-.95)" style="display:none"/>
<path class="t" d="M1187,1033H1212M1187,1055H1238M1187,1077H1212"/>
<g font-size="62">
<text x="235" y="835" textLength="75" lengthAdjust="spacingAndGlyphs">Hall</text>
<text x="242" y="918" textLength="212" lengthAdjust="spacingAndGlyphs">16'0"x15'6"</text>
<text x="1074" y="530" textLength="125" lengthAdjust="spacingAndGlyphs">M.Bed</text>
<text x="1056" y="612" textLength="212" lengthAdjust="spacingAndGlyphs">16'0"x10'0"</text>
<text x="906" y="1102" textLength="78" lengthAdjust="spacingAndGlyphs">Bed</text>
<text x="895" y="1183" textLength="212" lengthAdjust="spacingAndGlyphs">10'0"x10'0"</text>
<text x="1338" y="1040" textLength="152" lengthAdjust="spacingAndGlyphs">A.Toilet</text>
<text x="1320" y="1118" textLength="205" lengthAdjust="spacingAndGlyphs">5'7.5"x6'0"</text>
<text x="1352" y="1305" textLength="155" lengthAdjust="spacingAndGlyphs">Balcony</text>
<text x="1330" y="1390" textLength="240" lengthAdjust="spacingAndGlyphs">5'7.5"x4'4.5"</text>
<text x="415" y="1305" textLength="152" lengthAdjust="spacingAndGlyphs">A.Toilet</text>
<text x="422" y="1385" textLength="168" lengthAdjust="spacingAndGlyphs">8'0"x4'6"</text>
<text x="24" y="1335" textLength="155" lengthAdjust="spacingAndGlyphs">Balcony</text>
<text x="17" y="1412" textLength="226" lengthAdjust="spacingAndGlyphs">7'3"x4'10.5"</text>
</g>
</g>
</svg>
</body></html>
